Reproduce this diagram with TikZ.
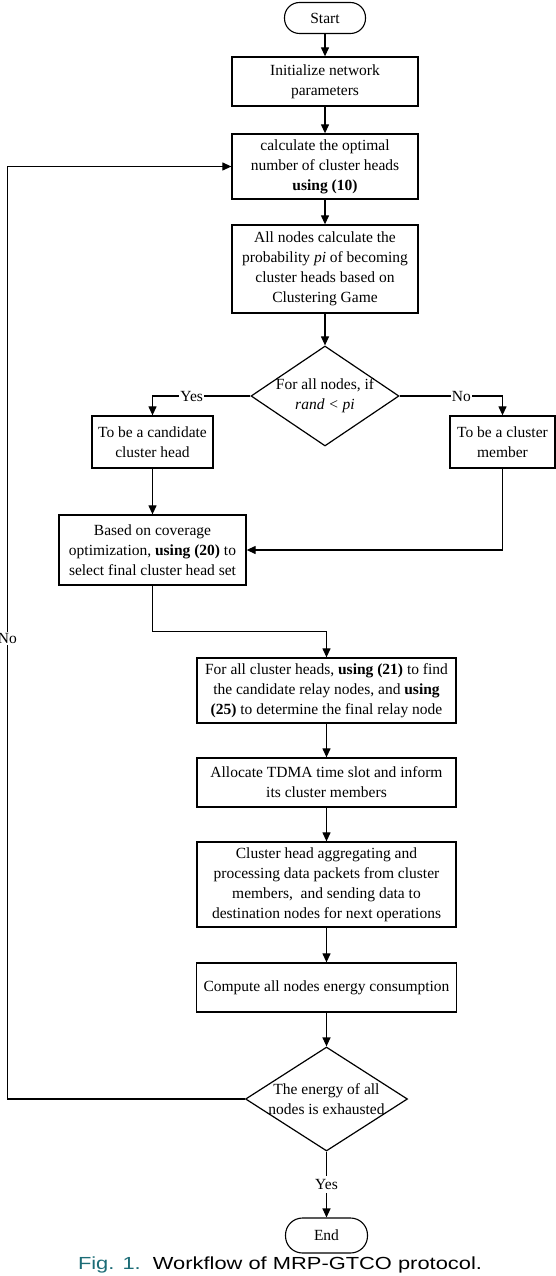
\documentclass[tikz,border=0pt]{standalone}
\usepackage{fontspec}
\setmainfont{Liberation Serif}
\newfontfamily\capfont{Liberation Sans}
\usetikzlibrary{shapes.geometric,arrows.meta,calc}
\definecolor{capteal}{RGB}{28,108,118}
\begin{document}
\begin{tikzpicture}[x=1pt,y=-1pt,
  font=\fontsize{15.5}{20}\selectfont,
  every node/.style={inner sep=0pt},
  box/.style={draw,line width=1.3pt,rectangle,align=center},
  pill/.style={draw,line width=1.1pt,rectangle,rounded corners=15pt,align=center},
  dia/.style={draw,line width=1.2pt,diamond,aspect=1},
  arr/.style={line width=1.2pt,-{Triangle[length=9pt,width=8pt]}},
  lab/.style={fill=white,inner sep=1pt}
]
\useasboundingbox (0,0) rectangle (556,1276);
\node[pill,minimum width=81pt,minimum height=31pt] (start) at (325,18) {Start};
\node[box,minimum width=186pt,minimum height=49pt] (init) at (325,81.5) {Initialize network\\parameters};
\node[box,minimum width=186pt,minimum height=65pt] (calc) at (325,166.5) {calculate the optimal\\number of cluster heads\\\textbf{using (10)}};
\node[box,minimum width=186pt,minimum height=88pt] (allp) at (325,269) {All nodes calculate the\\probability \textit{pi} of becoming\\cluster heads based on\\Clustering Game};
\node[dia,minimum width=148pt,minimum height=100pt,label={[align=center]center:For all nodes, if\\\textit{rand < pi}}] (dec1) at (325,396) {};
\node[box,minimum width=121pt,minimum height=52pt] (cand) at (152.5,442) {To be a candidate\\cluster head};
\node[box,minimum width=105pt,minimum height=52pt] (memb) at (502.5,442) {To be a cluster\\member};
\node[box,minimum width=187pt,minimum height=70pt] (based) at (152.5,550) {Based on coverage\\optimization, \textbf{using (20)} to\\select final cluster head set};
\node[box,minimum width=259pt,minimum height=65pt] (forall) at (326.5,690.5) {For all cluster heads, \textbf{using (21)} to find\\the candidate relay nodes, and \textbf{using}\\\textbf{(25)} to determine the final relay node};
\node[box,minimum width=259pt,minimum height=49pt] (alloc) at (326.5,782.5) {Allocate TDMA time slot and inform\\its cluster members};
\node[box,minimum width=259pt,minimum height=85pt] (aggr) at (326.5,884.5) {Cluster head aggregating and\\processing data packets from cluster\\members,~ and sending data to\\destination nodes for next operations};
\node[box,minimum width=260pt,minimum height=49pt] (comp) at (326.5,987.5) {Compute all nodes energy consumption};
\node[dia,minimum width=162pt,minimum height=104pt,label={[align=center]center:The energy of all\\nodes is exhausted}] (dec2) at (326.5,1099) {};
\node[pill,minimum width=82pt,minimum height=35pt,rounded corners=17pt] (end) at (326.5,1235.5) {End};
\node[font=\capfont\fontsize{17.5}{18}\selectfont,xscale=1.25] (cap) at (280,1265) {\textcolor{capteal}{Fig. 1.}\ \ Workflow of MRP-GTCO protocol.};

\draw[arr] (start) -- (init);
\draw[arr] (init) -- (calc);
\draw[arr] (calc) -- (allp);
\draw[arr] (allp) -- (dec1);
\draw[arr] (dec1.west) -| node[lab,pos=0.3]{Yes} (cand.north);
\draw[arr] (dec1.east) -| node[lab,pos=0.3]{No} (memb.north);
\draw[arr] (cand) -- (based);
\draw[arr] (memb.south) |- (based.east);
\draw[arr] (based.south) -- ++(0,46) -| (forall.north);
\draw[arr] (forall) -- (alloc);
\draw[arr] (alloc) -- (aggr);
\draw[arr] (aggr) -- (comp);
\draw[arr] (comp) -- (dec2);
\draw[arr] (dec2.south) -- node[lab,pos=0.5,inner ysep=3pt]{Yes} (end.north);
\draw[arr] (dec2.west) -- ++(-237.5,0) |- node[lab,pos=0.247]{No} (calc.west);
\end{tikzpicture}
\end{document}
